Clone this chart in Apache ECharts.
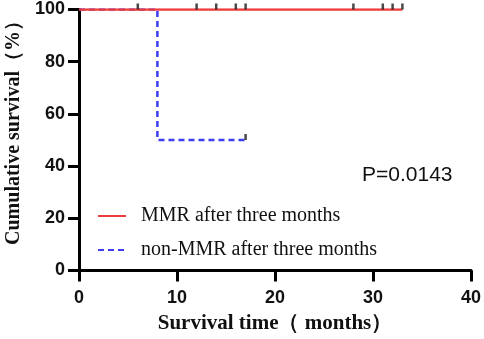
<!DOCTYPE html>
<html>
<head>
<meta charset="utf-8">
<script src="https://cdn.jsdelivr.net/npm/echarts@6/dist/echarts.min.js"></script>
<style>
  html, body { margin: 0; padding: 0; background: #fff; }
  #chart { width: 484px; height: 339px; }
</style>
</head>
<body>
<div id="chart"></div>
<script>
// Kaplan-Meier steps (months, % survival)
const mmrSteps = [[0, 100], [33, 100]];
const nonMmrSteps = [[0, 100], [8, 50], [17, 50]];
// censored observations
const mmrCensor = [[6, 100], [12, 100], [14, 100], [16, 100], [17, 100], [28, 100], [31, 100], [32, 100], [33, 100]];
const nonMmrCensor = [[17, 50]];
const seriesNames = ['MMR after three months', 'non-MMR after three months'];
const pValue = 'P=0.0143';

const red = '#ee3b3b';
const blue = '#3d3df2';

var myChart = echarts.init(document.getElementById('chart'), null, { renderer: 'canvas' });

const censorStyle = {
  type: 'scatter',
  symbol: 'rect',
  symbolSize: [2.5, 6],
  symbolOffset: [0, -3],
  itemStyle: { color: '#1a1a1a' },
  silent: true,
  z: 5
};

const option = {
  animation: false,
  grid: { left: 79, right: 13, top: 9.5, bottom: 68.5, containLabel: false, outerBoundsMode: 'none' },
  title: {
    text: pValue,
    left: 357,
    top: 160,
    textStyle: { fontFamily: 'Liberation Sans', fontWeight: 'normal', fontSize: 21, color: '#111' }
  },
  legend: {
    data: [
      { name: seriesNames[0] },
      { name: seriesNames[1] }
    ],
    orient: 'vertical',
    left: 92,
    top: 201,
    itemWidth: 28,
    itemHeight: 14,
    itemGap: 14,
    itemStyle: { opacity: 0 },
    textStyle: { fontFamily: 'Liberation Serif', fontSize: 20, color: '#111', padding: [0, 0, 0, 10] }
  },
  xAxis: {
    type: 'value',
    min: 0,
    max: 40,
    interval: 10,
    name: 'Survival time（ months）',
    nameLocation: 'middle',
    nameGap: 43,
    nameTextStyle: { fontFamily: 'Liberation Serif', fontWeight: 'bold', fontSize: 21, color: '#111' },
    axisLine: { lineStyle: { color: '#000', width: 3 } },
    axisTick: { length: 11, lineStyle: { color: '#000', width: 3 } },
    axisLabel: { margin: 19, fontFamily: 'Liberation Sans', fontWeight: 'bold', fontSize: 18, color: '#111' },
    splitLine: { show: false }
  },
  yAxis: {
    type: 'value',
    min: 0,
    max: 100,
    interval: 20,
    name: 'Cumulative survival（%）',
    nameLocation: 'middle',
    nameGap: 48,
    nameTextStyle: { fontFamily: 'Liberation Serif', fontWeight: 'bold', fontSize: 20, color: '#111', padding: [0, 0, 0, 24] },
    axisLine: { show: true, lineStyle: { color: '#000', width: 3 } },
    axisTick: { show: true, length: 11, lineStyle: { color: '#000', width: 3 } },
    axisLabel: { margin: 14, fontFamily: 'Liberation Sans', fontWeight: 'bold', fontSize: 18, color: '#111' },
    splitLine: { show: false }
  },
  series: [
    {
      name: seriesNames[1],
      type: 'line',
      step: 'end',
      data: nonMmrSteps,
      showSymbol: false,
      symbol: 'none',
      color: blue,
      lineStyle: { color: blue, width: 2.5, type: [6, 4] },
      z: 2
    },
    {
      name: seriesNames[0],
      type: 'line',
      step: 'end',
      data: mmrSteps,
      showSymbol: false,
      symbol: 'none',
      color: red,
      lineStyle: { color: red, width: 2.5 },
      z: 3
    },
    Object.assign({ name: 'mmrCensor', data: mmrCensor }, censorStyle),
    Object.assign({ name: 'nonMmrCensor', data: nonMmrCensor }, censorStyle)
  ]
};

option && myChart.setOption(option);
</script>
</body>
</html>
